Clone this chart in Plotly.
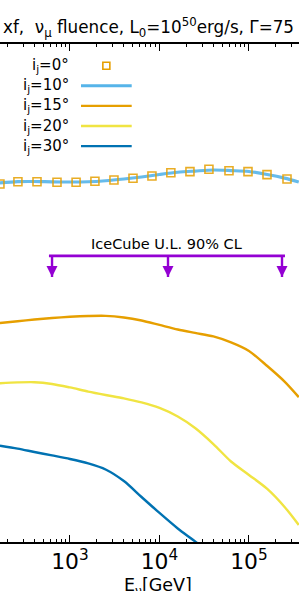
import math
import plotly.graph_objects as go

# ---------------- data ----------------
energy = [165, 260, 400, 630, 1000, 1600, 2500, 4000, 6300, 10000,
          16000, 25000, 40000, 63000, 100000, 160000, 250000, 360000]
fluence_10 = [2.92e-2, 3.02e-2, 3.03e-2, 3.00e-2, 2.99e-2, 3.01e-2, 3.09e-2, 3.23e-2, 3.40e-2,
              3.62e-2, 3.83e-2, 3.95e-2, 4.06e-2, 4.00e-2, 3.91e-2, 3.62e-2, 3.30e-2, 2.99e-2]
fluence_15 = [8.30e-4, 8.67e-4, 9.06e-4, 9.42e-4, 9.71e-4, 9.91e-4, 9.95e-4, 9.55e-4, 8.83e-4,
              7.89e-4, 7.03e-4, 6.44e-4, 5.89e-4, 5.06e-4, 4.07e-4, 2.78e-4, 1.87e-4, 1.26e-4]
fluence_20 = [1.79e-4, 1.83e-4, 1.84e-4, 1.76e-4, 1.61e-4, 1.45e-4, 1.33e-4, 1.22e-4, 1.10e-4,
              9.55e-5, 7.69e-5, 5.74e-5, 3.82e-5, 2.45e-5, 1.74e-5, 1.22e-5, 7.71e-6, 4.88e-6]
energy_30 = [165, 260, 400, 630, 1000, 1600, 2500, 4000, 6300, 10000, 16000, 25000, 40000]
fluence_30 = [3.66e-5, 3.40e-5, 3.12e-5, 2.86e-5, 2.61e-5, 2.33e-5, 2.00e-5, 1.49e-5, 9.93e-6,
              6.62e-6, 4.46e-6, 3.21e-6, 2.22e-6]

energy_0 = [165, 262, 428, 716, 1170, 1900, 3100, 5060, 8240, 13400,
            21900, 35700, 59800, 97500, 159000, 266000]
fluence_0 = [2.84e-2, 3.01e-2, 3.01e-2, 2.97e-2, 2.97e-2, 3.05e-2, 3.15e-2, 3.29e-2,
             3.48e-2, 3.79e-2, 3.89e-2, 4.13e-2, 3.99e-2, 3.89e-2, 3.61e-2, 3.23e-2]

ul_energy = [630, 12450, 233900]
ul_span = [582, 252500]
ul_level = 4.56e-3
ul_tip = 2.67e-3

legend_labels = ["i<sub>j</sub>=0°", "i<sub>j</sub>=10°", "i<sub>j</sub>=15°",
                 "i<sub>j</sub>=20°", "i<sub>j</sub>=30°"]
title_text = "xf,&nbsp; ν<sub>μ</sub> fluence, L<sub>0</sub>=10<sup>50</sup>erg/s, Γ=75"
xlabel_text = "E<sub>ν</sub>[GeV]"
ul_text = "IceCube U.L. 90% CL"

# ---------------- style ----------------
W, H = 299, 591
MT, MB = 44, 49
PH = H - MT - MB
FONT = "DejaVu Sans"
C_LB, C_OR, C_YE, C_DB, C_UL = "#56B4E9", "#E69F00", "#F0E442", "#0072B2", "#9400D3"
XRANGE = [2.218, 5.559]


def py(px):
    """pixel row (from top of page) -> paper y"""
    return (H - MB - px) / PH


def pxx(px):
    return px / W


fig = go.Figure()
fig.add_trace(go.Scatter(x=energy, y=fluence_10, mode="lines",
                         line=dict(color=C_LB, width=3.2, shape="spline", smoothing=0.8),
                         opacity=0.9))
fig.add_trace(go.Scatter(x=energy_0, y=fluence_0, mode="markers",
                         marker=dict(symbol="square-open", size=8, color=C_OR,
                                     line=dict(width=1.6, color=C_OR)),
                         opacity=0.85))
fig.add_trace(go.Scatter(x=energy, y=fluence_15, mode="lines",
                         line=dict(color=C_OR, width=2.4, shape="spline", smoothing=0.8)))
fig.add_trace(go.Scatter(x=energy, y=fluence_20, mode="lines",
                         line=dict(color=C_YE, width=2.4, shape="spline", smoothing=0.8)))
fig.add_trace(go.Scatter(x=energy_30, y=fluence_30, mode="lines",
                         line=dict(color=C_DB, width=2.4, shape="spline", smoothing=0.8)))

# IceCube upper limit
fig.add_trace(go.Scatter(x=ul_span, y=[ul_level, ul_level], mode="lines",
                         line=dict(color=C_UL, width=2.8)))
stem_x, stem_y = [], []
for e in ul_energy:
    stem_x += [e, e, None]
    stem_y += [ul_level, ul_tip, None]
fig.add_trace(go.Scatter(x=stem_x, y=stem_y, mode="lines",
                         line=dict(color=C_UL, width=2.4)))
fig.add_trace(go.Scatter(x=ul_energy, y=[ul_tip] * len(ul_energy), mode="markers",
                         marker=dict(symbol="arrow-down", size=11, color=C_UL,
                                     line=dict(width=0))))

annotations = []
annotations.append(dict(text=title_text, xref="paper", yref="paper", x=pxx(1), y=py(27),
                        xanchor="left", yanchor="middle", showarrow=False,
                        font=dict(family=FONT, size=16.8, color="black")))
annotations.append(dict(text=xlabel_text, xref="paper", yref="paper", x=pxx(158), y=py(586),
                        xanchor="center", yanchor="middle", showarrow=False,
                        font=dict(family=FONT, size=17.5, color="black")))
annotations.append(dict(text=ul_text, xref="x", yref="y",
                        x=(math.log10(ul_span[0]) + math.log10(ul_span[1])) / 2,
                        y=math.log10(ul_level), xanchor="center", yanchor="bottom",
                        yshift=2, showarrow=False,
                        font=dict(family=FONT, size=14.5, color="black")))

# manual legend (labels left, samples right)
shapes = []
row0, gap = 65.7, 20.1
lab_x, s0, s1 = 70.5, 81, 131.7
sample_colors = [C_OR, C_LB, C_OR, C_YE, C_DB]
for i, lab in enumerate(legend_labels):
    yy = row0 + gap * i
    annotations.append(dict(text=lab, xref="paper", yref="paper", x=pxx(lab_x), y=py(yy),
                            xanchor="right", yanchor="middle", showarrow=False,
                            font=dict(family=FONT, size=15, color="black")))
    if i == 0:
        cx = (s0 + s1) / 2
        shapes.append(dict(type="rect", xref="paper", yref="paper",
                           x0=pxx(cx - 3.5), x1=pxx(cx + 3.5), y0=py(yy + 3.5), y1=py(yy - 3.5),
                           line=dict(color=C_OR, width=1.6)))
    else:
        shapes.append(dict(type="line", xref="paper", yref="paper",
                           x0=pxx(s0), x1=pxx(s1), y0=py(yy), y1=py(yy),
                           line=dict(color=sample_colors[i], width=3 if i == 1 else 2.4)))

fig.update_layout(
    width=W, height=H,
    margin=dict(l=0, r=0, t=MT, b=MB, pad=0),
    paper_bgcolor="white", plot_bgcolor="white",
    showlegend=False,
    font=dict(family=FONT, color="black"),
    annotations=annotations,
    shapes=shapes,
)
fig.update_xaxes(type="log", range=XRANGE, dtick=1, exponentformat="power",
                 showline=True, linecolor="black", linewidth=1.6, mirror="allticks",
                 ticks="inside", ticklen=7, tickwidth=1.2, tickcolor="black",
                 minor=dict(ticks="inside", ticklen=3.5, tickwidth=1, tickcolor="black",
                            dtick="D1"),
                 showgrid=False, zeroline=False,
                 tickfont=dict(family=FONT, size=17.5, color="black"))
fig.update_yaxes(type="log", range=[-5.5, 0], showticklabels=False, ticks="",
                 showline=False, showgrid=False, zeroline=False)

fig.write_html("out.html", config={"displayModeBar": False},
               post_script="document.body.style.margin='0';document.body.style.overflow='hidden';")
